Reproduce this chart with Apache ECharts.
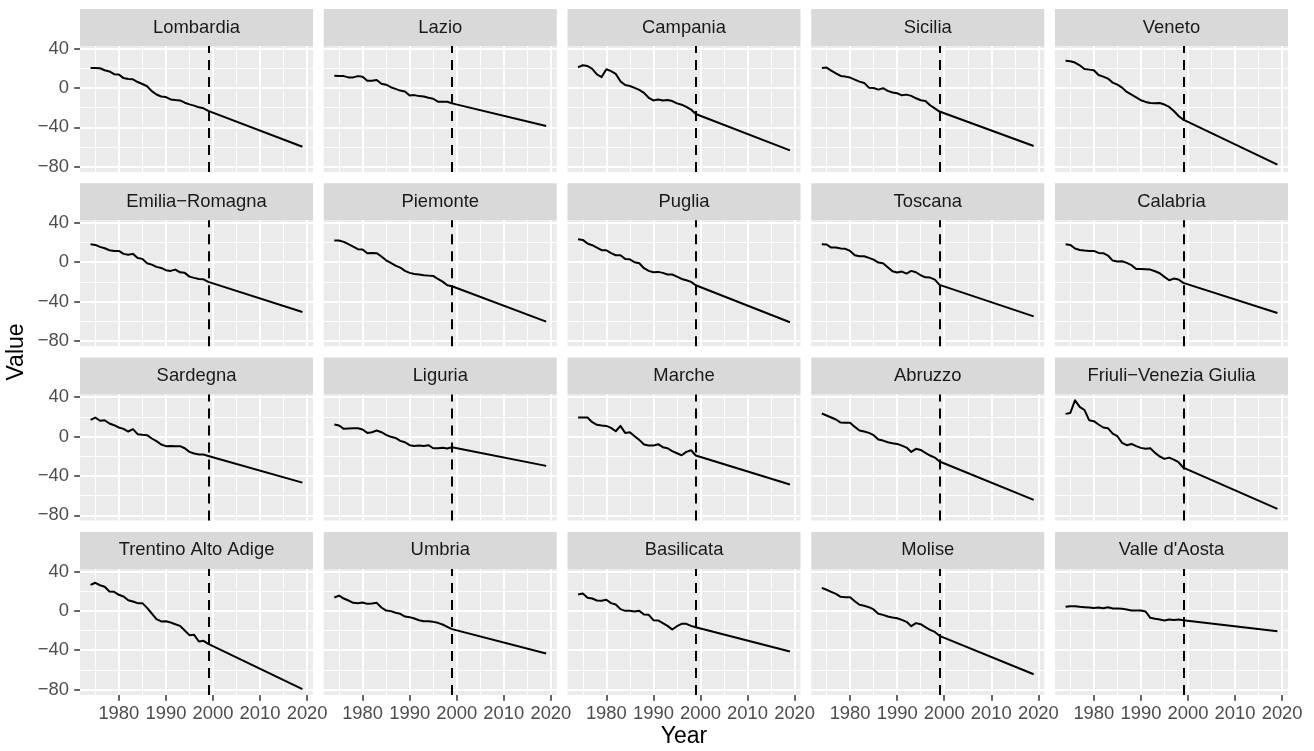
<!DOCTYPE html>
<html><head><meta charset="utf-8">
<script src="https://cdn.jsdelivr.net/npm/echarts@6/dist/echarts.min.js"></script>
<style>html,body{margin:0;padding:0;background:#fff}#chart{width:1314px;height:751px}</style>
</head><body><div id="chart"></div>
<script>
// ---------- data ----------
const years = [1974,1975,1976,1977,1978,1979,1980,1981,1982,1983,1984,1985,1986,1987,1988,1989,1990,1991,1992,1993,1994,1995,1996,1997,1998,1999,2019];
const lombardia  = [20.3,20.3,20,18,16.7,14,13.7,10,9,8.7,6,4,1.7,-3.3,-6.7,-8.7,-9.3,-11.7,-12.3,-12.7,-15,-16.7,-18,-19.7,-20.7,-23.3,-59.7];
const lazio      = [12.3,12,12,10.7,10.7,12,11.3,7.3,7.3,8,4.3,3.3,0.7,-1,-2.7,-3.7,-7.7,-7.3,-8.3,-8.7,-10,-11,-14,-14,-14,-15.7,-38.7];
const campania   = [21,23,22.3,19.3,13.7,11,19,17,14.3,6.7,3,2,0,-2,-5,-10,-12.7,-11.7,-12.7,-12.3,-13.3,-15.7,-17,-19.3,-22,-26.5,-63.4];
const sicilia    = [20.3,20.7,17.6,14.9,12.2,11.5,10.5,8.5,6.4,5.1,0.3,0,-1.7,-0.3,-3,-4.7,-5.4,-7.5,-6.8,-8.1,-10.5,-12.5,-13.2,-17.6,-20.7,-24,-59];
const veneto     = [27.5,27.1,25.8,23,19.3,18.6,18,13.2,11.5,9.5,5.4,3.4,0.3,-4.1,-6.8,-9.5,-12.5,-14.2,-15.3,-15.6,-15.3,-16.9,-19.3,-23.4,-28.5,-32.2,-78];
const emilia     = [18.3,17.6,15.6,14.2,12.2,11.5,11.5,8.5,7.5,8.5,4.4,3.4,-1,-2.4,-4.7,-5.8,-8.1,-8.8,-7.5,-10.2,-10.8,-14.6,-15.9,-17,-17.3,-20,-50.5];
const piemonte   = [22,22,20.7,18.3,15.9,13.2,12.9,9.2,9.5,9.2,5.8,2,-0.7,-3.4,-5.4,-8.8,-10.8,-11.9,-12.5,-13.2,-13.6,-13.9,-17,-19.7,-23.4,-24.4,-60.3];
const puglia     = [23.4,22.7,19,17.3,14.9,12.2,12.2,9.2,7.1,7.1,3.4,3,0,-1,-6.1,-8.8,-10.2,-9.8,-10.8,-12.5,-12.5,-14.6,-17,-18.3,-20,-23.4,-61];
const toscana    = [18.3,18,14.9,14.9,13.9,13.6,11.5,7.1,6.1,6.1,4.4,2.7,-0.3,-1,-5.1,-9.2,-10.5,-9.5,-11.5,-8.8,-10.2,-13.2,-15.3,-15.6,-17.6,-23,-55];
const calabria   = [18.3,17.6,13.9,12.5,11.9,11.5,11.5,9.5,9.2,6.8,1.7,0.7,1,-0.7,-3,-6.8,-6.8,-7.1,-7.5,-9.2,-11.2,-14.9,-18.3,-16.6,-17.6,-21,-51.5];
const sardegna   = [17,19.3,16,16.5,13.2,11.5,9.2,7.8,5.1,7.5,2.4,1.7,1.4,-2,-4.7,-8.1,-9.8,-9.5,-9.8,-9.8,-11.9,-15.6,-17.3,-18.3,-18.3,-19.7,-46.8];
const liguria    = [12.2,11.2,7.8,8.1,8.5,8.5,7.1,3.7,4.4,6.1,4.4,1.7,-0.3,-1.4,-4.4,-5.8,-8.8,-9.5,-9.2,-9.5,-8.8,-11.9,-11.9,-11.5,-12.2,-10.8,-29.8];
const marche     = [19.3,19.3,19.3,14.6,11.9,11.2,10.8,8.8,5.4,10.8,3.7,4.4,0.3,-3.4,-8.1,-9.2,-9.2,-7.8,-10.8,-11.9,-14.9,-17,-19,-15.6,-13.9,-19.3,-48.8];
const abruzzo    = [23.4,21.4,19.3,17.3,14.2,13.9,13.9,9.8,6.1,5.1,3.7,1.4,-3,-4.1,-5.8,-6.8,-7.5,-9.2,-11.2,-15.6,-12.5,-13.6,-16.6,-19.3,-21.4,-25.4,-64.4];
const friuli     = [23,24,36.8,30.2,27,16.6,15.6,12.2,9.2,8.5,3,0.3,-6.4,-8.8,-7.5,-9.8,-11.5,-12.5,-11.9,-16.6,-20.3,-22.7,-21.4,-23.4,-26.1,-31.5,-73.5];
const trentino   = [26.4,28.5,26,24.5,19.7,19.3,16.3,14.6,10.8,9.5,7.8,7.8,3,-2.7,-8.5,-10.8,-10.5,-11.9,-13.6,-15.3,-20,-24.7,-24.4,-31.2,-30.5,-33.6,-79.6];
const umbria     = [13.5,15.5,12.5,10.5,8.1,7.8,8.5,7.1,7.5,8.1,3.4,0.3,-0.3,-2,-3,-5.8,-6.4,-7.8,-9.5,-10.5,-10.5,-11.2,-12.2,-13.9,-16.3,-18.6,-43.4];
const basilicata = [16.6,17.6,13.2,12.5,10.5,10.2,11.2,7.8,6.4,1.7,0,0,-0.7,0,-3.7,-4.1,-9.5,-9.8,-12.5,-15.3,-19,-15.6,-13.2,-13.2,-15.3,-16.6,-41.4];
const molise     = [23.4,21.4,19.3,17.3,14.2,13.9,13.9,9.8,6.1,5.1,3.7,1.4,-3,-4.1,-5.8,-6.8,-7.5,-9.2,-11.2,-15.6,-12.5,-13.6,-16.6,-19.3,-21.4,-25.4,-64.4];
const valle      = [4.1,4.7,4.7,4.1,3.7,3.4,3,3.4,2.7,3.7,2.4,2.4,2,1.4,0.3,0.3,0.3,-0.7,-7.1,-8.1,-8.8,-9.8,-8.8,-9.2,-8.8,-9.5,-20.7];

const regionNames = ["Lombardia","Lazio","Campania","Sicilia","Veneto",
  "Emilia\u2212Romagna","Piemonte","Puglia","Toscana","Calabria",
  "Sardegna","Liguria","Marche","Abruzzo","Friuli\u2212Venezia Giulia",
  "Trentino Alto Adige","Umbria","Basilicata","Molise","Valle d'Aosta"];
const regionValues = [lombardia,lazio,campania,sicilia,veneto,
  emilia,piemonte,puglia,toscana,calabria,
  sardegna,liguria,marche,abruzzo,friuli,
  trentino,umbria,basilicata,molise,valle];

const cutoffYear = 1999;
const xMajorTicks = [1980,1990,2000,2010,2020];
const xMinorTicks = [1975,1985,1995,2005,2015];
const yMajorTicks = [-80,-40,0,40];
const yMinorTicks = [-60,-20,20];
const xRange = [1971.75, 2021.25];
const yRange = [-85.4, 42.6];

// ---------- layout ----------
const FONT = '"Liberation Sans", Arial, Helvetica, sans-serif';
const NCOL = 5;
const PANEL_L = 80, PITCH_X = 243.75, PANEL_W = 233;
const PANEL_T = 46, PITCH_Y = 174.3, PANEL_H = 126, STRIP_H = 37;
const nRows = Math.ceil(regionNames.length / NCOL);

const grids = [], xAxes = [], yAxes = [], series = [], graphics = [];
const minusFmt = v => String(v).replace('-', '\u2212');
const plainFmt = v => String(v);

regionNames.forEach((name, i) => {
  const r = Math.floor(i / NCOL), c = i % NCOL;
  const left = PANEL_L + c * PITCH_X;
  const top = PANEL_T + r * PITCH_Y;
  const bottomRow = r === nRows - 1, leftCol = c === 0;
  grids.push({left, top, width: PANEL_W, height: PANEL_H, show: true,
    backgroundColor: '#EBEBEB', borderWidth: 0, containLabel: false, outerBoundsMode: 'none'});
  // major x
  xAxes.push({type: 'value', gridIndex: i, position: 'bottom', min: xRange[0], max: xRange[1],
    axisLine: {show: false, onZero: false},
    axisTick: {show: bottomRow, customValues: xMajorTicks, length: 5.8, lineStyle: {color: '#333333', width: 1.5}},
    axisLabel: {show: bottomRow, customValues: xMajorTicks, color: '#4D4D4D', fontSize: 18.4, fontFamily: FONT, margin: 10, formatter: plainFmt},
    splitLine: {show: true, lineStyle: {color: '#FFFFFF', width: 2}}});
  // minor x
  xAxes.push({type: 'value', gridIndex: i, position: 'bottom', min: xRange[0], max: xRange[1],
    axisLine: {show: false, onZero: false},
    axisTick: {show: false, customValues: xMinorTicks},
    axisLabel: {show: false, customValues: xMinorTicks},
    splitLine: {show: true, lineStyle: {color: '#FFFFFF', width: 1}}});
  // major y
  yAxes.push({type: 'value', gridIndex: i, position: 'left', min: yRange[0], max: yRange[1],
    axisLine: {show: false, onZero: false},
    axisTick: {show: leftCol, customValues: yMajorTicks, length: 5.8, lineStyle: {color: '#333333', width: 1.5}},
    axisLabel: {show: leftCol, customValues: yMajorTicks, color: '#4D4D4D', fontSize: 18.4, fontFamily: FONT, margin: 11, formatter: minusFmt},
    splitLine: {show: true, lineStyle: {color: '#FFFFFF', width: 2}}});
  // minor y
  yAxes.push({type: 'value', gridIndex: i, position: 'left', min: yRange[0], max: yRange[1],
    axisLine: {show: false, onZero: false},
    axisTick: {show: false, customValues: yMinorTicks},
    axisLabel: {show: false, customValues: yMinorTicks},
    splitLine: {show: true, lineStyle: {color: '#FFFFFF', width: 1}}});

  const vals = regionValues[i];
  series.push({type: 'line', name, xAxisIndex: 2 * i, yAxisIndex: 2 * i,
    data: years.map((y, k) => [y, vals[k]]),
    symbol: 'none', silent: true, animation: false,
    lineStyle: {color: '#000000', width: 2, join: 'round'},
    markLine: {silent: true, symbol: ['none', 'none'], label: {show: false}, animation: false,
      lineStyle: {color: '#000000', width: 2, type: [10, 7]},
      data: [{xAxis: cutoffYear}]}});

  // strip
  graphics.push({type: 'rect', silent: true, shape: {x: left, y: top - STRIP_H, width: PANEL_W, height: STRIP_H},
    style: {fill: '#D9D9D9'}});
  graphics.push({type: 'text', silent: true, x: left + PANEL_W / 2, y: top - STRIP_H / 2,
    style: {text: name, fill: '#1A1A1A', fontSize: 18.4, fontFamily: FONT, align: 'center', verticalAlign: 'middle'}});
});

const plotL = PANEL_L, plotR = PANEL_L + (NCOL - 1) * PITCH_X + PANEL_W;
const plotT = PANEL_T - STRIP_H, plotB = PANEL_T + (nRows - 1) * PITCH_Y + PANEL_H;
graphics.push({type: 'text', silent: true, x: (plotL + plotR) / 2, y: 737,
  style: {text: 'Year', fill: '#000000', fontSize: 23, fontFamily: FONT, align: 'center', verticalAlign: 'middle'}});
graphics.push({type: 'text', silent: true, x: 17, y: (plotT + plotB) / 2, rotation: Math.PI / 2,
  style: {text: 'Value', fill: '#000000', fontSize: 23, fontFamily: FONT, align: 'center', verticalAlign: 'middle'}});

const chart = echarts.init(document.getElementById('chart'), null, {renderer: 'canvas'});
chart.setOption({animation: false, backgroundColor: '#FFFFFF',
  grid: grids, xAxis: xAxes, yAxis: yAxes, series, graphic: graphics});
</script></body></html>
